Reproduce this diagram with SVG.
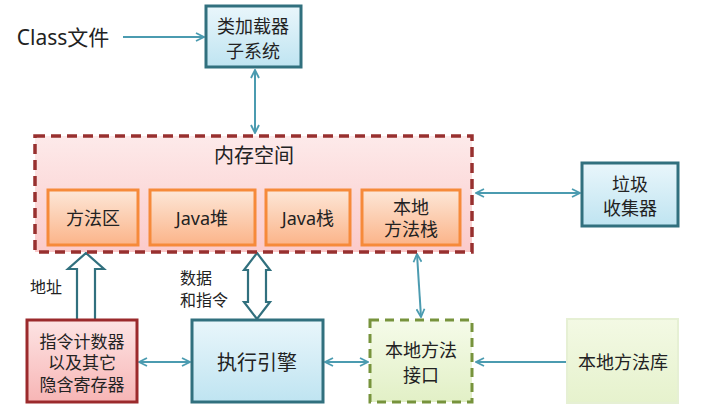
<svg xmlns="http://www.w3.org/2000/svg" width="722" height="415" viewBox="0 0 722 415">
<defs>
<linearGradient id="gBlue" x1="0" y1="0" x2="0" y2="1"><stop offset="0" stop-color="#e9f6fb"/><stop offset="1" stop-color="#bfe4f1"/></linearGradient>
<linearGradient id="gPink" x1="0" y1="0" x2="0" y2="1"><stop offset="0" stop-color="#fdeaea"/><stop offset="1" stop-color="#fbcaca"/></linearGradient>
<linearGradient id="gRed" x1="0" y1="0" x2="0" y2="1"><stop offset="0" stop-color="#fde4e4"/><stop offset="1" stop-color="#f7b5b5"/></linearGradient>
<linearGradient id="gOrange" x1="0" y1="0" x2="0" y2="1"><stop offset="0" stop-color="#fde7d8"/><stop offset="1" stop-color="#fbb489"/></linearGradient>
<linearGradient id="gGreen" x1="0" y1="0" x2="0" y2="1"><stop offset="0" stop-color="#f5fbe9"/><stop offset="1" stop-color="#e2f0c6"/></linearGradient>
<linearGradient id="gLib" x1="0" y1="0" x2="0" y2="1"><stop offset="0" stop-color="#f3f9e4"/><stop offset="1" stop-color="#e6f2cd"/></linearGradient>
<marker id="ah" viewBox="0 0 10 10" refX="9" refY="5" markerWidth="10" markerHeight="10" markerUnits="userSpaceOnUse" orient="auto-start-reverse">
<path d="M1,1 L9,5 L1,9" fill="none" stroke="#4b9bb0" stroke-width="1.8"/>
</marker>
</defs>
<style>
text{font-family:"Noto Sans","Noto Sans CJK SC",sans-serif;fill:#222;text-anchor:middle;dominant-baseline:central}
.t18{font-size:18px}
.t20{font-size:20px}
.t17{font-size:17px}
.t16{font-size:16px}
.start{text-anchor:start}
.conn{stroke:#4b9bb0;stroke-width:2;fill:none}
.hollow{fill:#fff;stroke:#31707e;stroke-width:2.2;stroke-linejoin:miter}
.teal{stroke:#31707e;stroke-width:3}
.orange{fill:url(#gOrange);stroke:#f68a3a;stroke-width:3}
</style>

<g id="connectors">
<line class="conn" x1="123" y1="37" x2="204" y2="37" marker-end="url(#ah)"/>
<line class="conn" x1="255" y1="70" x2="255" y2="133" marker-start="url(#ah)" marker-end="url(#ah)"/>
<line class="conn" x1="476" y1="193" x2="580" y2="193" marker-start="url(#ah)" marker-end="url(#ah)"/>
<line class="conn" x1="417" y1="254" x2="421" y2="317" marker-start="url(#ah)" marker-end="url(#ah)"/>
<line class="conn" x1="139" y1="362" x2="190" y2="362" marker-start="url(#ah)" marker-end="url(#ah)"/>
<line class="conn" x1="325" y1="362" x2="368" y2="362" marker-start="url(#ah)" marker-end="url(#ah)"/>
<line class="conn" x1="566" y1="362" x2="476" y2="362" marker-end="url(#ah)"/>
<path class="hollow" d="M86,253 L104,269 L95,269 L95,320 L77,320 L77,269 L68,269 Z"/>
<path class="hollow" d="M257,253 L270,270 L266,270 L266,302 L270,302 L257,319 L244,302 L248,302 L248,270 L244,270 Z"/>
<text class="t16" x="46" y="287">地址</text>
<text class="t16 start" x="180" y="278">数据</text>
<text class="t16 start" x="180" y="300">和指令</text>
</g>

<g id="class-file"><text class="t20" x="63" y="37" style="font-size:21px">Class文件</text></g>

<g id="class-loader">
<rect x="206" y="6" width="95" height="61" fill="url(#gBlue)" class="teal"/>
<text class="t18" x="253" y="26">类加载器</text>
<text class="t18" x="253" y="51">子系统</text>
</g>

<g id="memory">
<rect x="35" y="136" width="437" height="116" fill="url(#gPink)" stroke="#98302f" stroke-width="3.5" stroke-dasharray="10,6"/>
<text class="t20" x="254" y="155">内存空间</text>
</g>

<g id="method-area">
<rect x="48" y="190" width="90" height="55" class="orange"/>
<text class="t18" x="93" y="218">方法区</text>
</g>
<g id="java-heap">
<rect x="150" y="190" width="105" height="55" class="orange"/>
<text class="t18" x="202" y="218">Java堆</text>
</g>
<g id="java-stack">
<rect x="266" y="190" width="84" height="55" class="orange"/>
<text class="t18" x="308" y="218">Java栈</text>
</g>
<g id="native-stack">
<rect x="362" y="190" width="98" height="55" class="orange"/>
<text class="t18" x="411" y="207">本地</text>
<text class="t18" x="411" y="229">方法栈</text>
</g>

<g id="gc">
<rect x="582" y="163" width="96" height="63" fill="url(#gBlue)" class="teal"/>
<text class="t18" x="630" y="184">垃圾</text>
<text class="t18" x="630" y="208">收集器</text>
</g>

<g id="pc-register">
<rect x="27" y="320" width="110" height="82" fill="url(#gRed)" stroke="#9b2a2c" stroke-width="3"/>
<text class="t17" x="82" y="341">指令计数器</text>
<text class="t17" x="82" y="362">以及其它</text>
<text class="t17" x="82" y="384">隐含寄存器</text>
</g>

<g id="exec-engine">
<rect x="192" y="320" width="131" height="82" fill="url(#gBlue)" class="teal"/>
<text class="t20" x="257" y="362">执行引擎</text>
</g>

<g id="native-interface">
<rect x="370" y="320" width="102" height="82" fill="url(#gGreen)" stroke="#77933c" stroke-width="3" stroke-dasharray="9,6"/>
<text class="t18" x="421" y="350">本地方法</text>
<text class="t18" x="421" y="375">接口</text>
</g>

<g id="native-lib">
<rect x="567" y="319" width="111" height="84" fill="url(#gLib)" stroke="#e6f0d4" stroke-width="2"/>
<text class="t18" x="623" y="362">本地方法库</text>
</g>
</svg>
